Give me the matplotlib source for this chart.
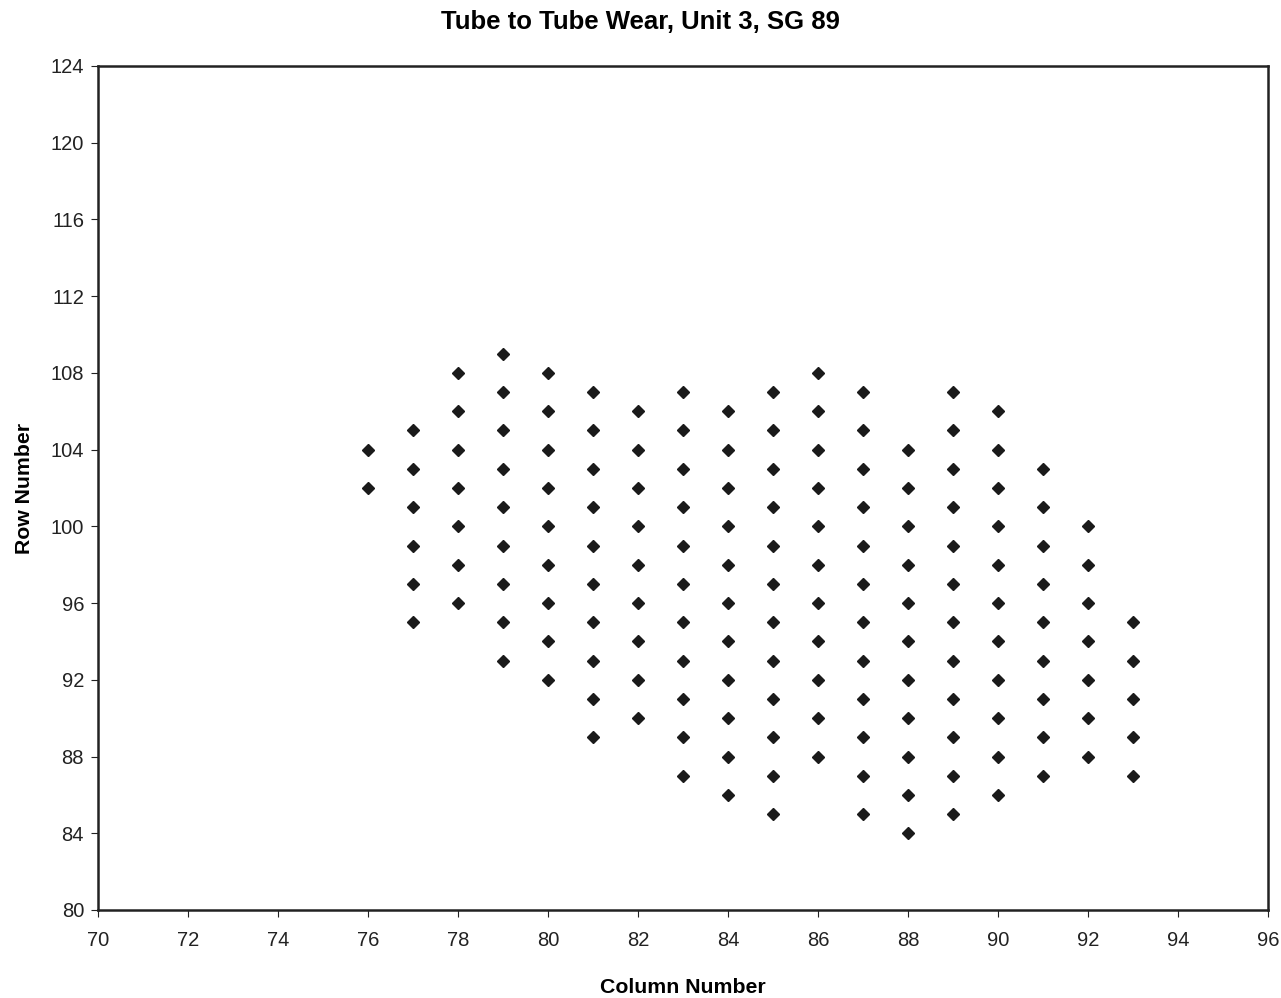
import matplotlib
matplotlib.use("Agg")
import matplotlib.pyplot as plt

# Worn tube locations: column number -> list of row numbers
col_76 = [102, 104]
col_77 = [95, 97, 99, 101, 103, 105]
col_78 = [96, 98, 100, 102, 104, 106, 108]
col_79 = [93, 95, 97, 99, 101, 103, 105, 107, 109]
col_80 = [92, 94, 96, 98, 100, 102, 104, 106, 108]
col_81 = [89, 91, 93, 95, 97, 99, 101, 103, 105, 107]
col_82 = [90, 92, 94, 96, 98, 100, 102, 104, 106]
col_83 = [87, 89, 91, 93, 95, 97, 99, 101, 103, 105, 107]
col_84 = [86, 88, 90, 92, 94, 96, 98, 100, 102, 104, 106]
col_85 = [85, 87, 89, 91, 93, 95, 97, 99, 101, 103, 105, 107]
col_86 = [88, 90, 92, 94, 96, 98, 100, 102, 104, 106, 108]
col_87 = [85, 87, 89, 91, 93, 95, 97, 99, 101, 103, 105, 107]
col_88 = [84, 86, 88, 90, 92, 94, 96, 98, 100, 102, 104]
col_89 = [85, 87, 89, 91, 93, 95, 97, 99, 101, 103, 105, 107]
col_90 = [86, 88, 90, 92, 94, 96, 98, 100, 102, 104, 106]
col_91 = [87, 89, 91, 93, 95, 97, 99, 101, 103]
col_92 = [88, 90, 92, 94, 96, 98, 100]
col_93 = [87, 89, 91, 93, 95]

columns = {76: col_76, 77: col_77, 78: col_78, 79: col_79, 80: col_80,
           81: col_81, 82: col_82, 83: col_83, 84: col_84, 85: col_85,
           86: col_86, 87: col_87, 88: col_88, 89: col_89, 90: col_90,
           91: col_91, 92: col_92, 93: col_93}

x_ticks = list(range(70, 97, 2))
y_ticks = list(range(80, 125, 4))

xs, ys = [], []
for c, rows in columns.items():
    for r in rows:
        xs.append(c)
        ys.append(r)

plt.rcParams['font.family'] = ['Liberation Sans', 'DejaVu Sans']

fig = plt.figure(figsize=(12.81, 9.98), dpi=100)
ax = fig.add_axes([0.0765, 0.0882, 0.9133, 0.8457])

ax.plot(xs, ys, linestyle='none', marker='D', markersize=6.2,
        color='#1a1a1a')

ax.set_xlim(70, 96)
ax.set_ylim(80, 124)
ax.set_xticks(x_ticks)
ax.set_yticks(y_ticks)
ax.tick_params(direction='out', length=5, width=0.8, labelsize=14.5,
               colors='#222222')
ax.tick_params(axis='x', pad=10)
ax.tick_params(axis='y', pad=5)
for s in ax.spines.values():
    s.set_linewidth(1.8)
    s.set_color('#222222')

ax.set_xlabel('Column Number', fontsize=15.3, fontweight='bold', labelpad=20)
ax.set_ylabel('Row Number', fontsize=15.3, fontweight='bold', labelpad=12)
fig.suptitle('Tube to Tube Wear, Unit 3, SG 89', fontsize=18.5,
             fontweight='bold', y=0.990)

fig.savefig('out.png', dpi=100)
